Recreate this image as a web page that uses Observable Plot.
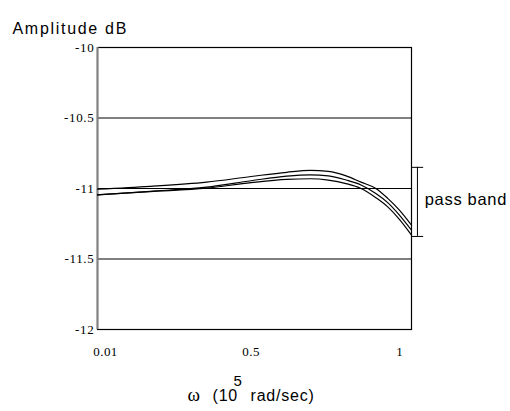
<!DOCTYPE html>
<html>
<head>
<meta charset="utf-8">
<script src="https://cdn.jsdelivr.net/npm/d3@7"></script>
<script src="https://cdn.jsdelivr.net/npm/@observablehq/plot@0.6"></script>
<style>
  body { margin: 0; background: white; }
</style>
</head>
<body>
<div id="chart"></div>
<script>
// ---- data ----
const xTicks = [0.01, 0.5, 1];
const xTickLabels = ["0.01", "0.5", "1"];
const yTicks = [-10, -10.5, -11, -11.5, -12];
const yTickLabels = ["-10", "-10.5", "-11", "-11.5", "-12"];
const gridY = [-10.5, -11, -11.5];
const xDomain = [-0.017, 1.04];
const yDomain = [-12, -10];

// frequency samples (10^5 rad/sec)
const omega = [-0.017, 0.16, 0.35, 0.5, 0.62, 0.7, 0.76, 0.82, 0.87, 0.92, 0.96, 1.0, 1.04];
// three amplitude responses (dB)
const ampUpper  = [-11.005, -10.985, -10.955, -10.915, -10.885, -10.872, -10.878, -10.91, -10.955, -11.0, -11.07, -11.155, -11.26];
const ampMiddle = [-11.045, -11.02, -10.99, -10.945, -10.912, -10.903, -10.91, -10.94, -10.975, -11.035, -11.1, -11.19, -11.295];
const ampLower  = [-11.045, -11.022, -10.998, -10.958, -10.935, -10.931, -10.94, -10.965, -11.0, -11.065, -11.13, -11.22, -11.33];

// pass band bracket
const passBand = [-10.85, -11.34];
const bracketX = 1.06;
const bracketCaps = [1.04, 1.081];

const titleText = "Amplitude dB";
const bandText = "pass band";
const xLabelParts = ["ω", "(10", "5", "rad/sec)"];

// ---- build ----
const series = [
  {name: "upper", values: ampUpper},
  {name: "middle", values: ampMiddle},
  {name: "lower", values: ampLower}
];
const rows = series.flatMap(s => omega.map((w, i) => ({series: s.name, w, a: s.values[i]})));

const SANS = "'Liberation Sans', Arial, sans-serif";
const SERIF = "'Liberation Serif', 'Times New Roman', serif";

const chart = Plot.plot({
  width: 510,
  height: 411,
  marginLeft: 97,
  marginRight: 99,
  marginTop: 47,
  marginBottom: 82,
  style: {fontFamily: SERIF, fontSize: "13px", color: "black", background: "white"},
  x: {domain: xDomain, axis: null},
  y: {domain: yDomain, axis: null},
  marks: [
    Plot.axisX(xTicks, {anchor: "bottom", tickSize: 0, tickPadding: 17, label: null,
      tickFormat: d => xTickLabels[xTicks.indexOf(d)], fontFamily: SERIF, fontSize: 13, fill: "black"}),
    Plot.axisY(yTicks, {anchor: "left", tickSize: 0, tickPadding: 3, label: null,
      tickFormat: d => yTickLabels[yTicks.indexOf(d)], fontFamily: SERIF, fontSize: 13, fill: "black"}),
    Plot.ruleY(gridY, {stroke: "black", strokeWidth: 1}),
    Plot.frame({stroke: "black", strokeWidth: 1.2}),
    Plot.ruleX([xDomain[0]], {stroke: "#808080", strokeWidth: 2}),
    Plot.line(rows, {x: "w", y: "a", z: "series", stroke: "black", strokeWidth: 1.2, curve: "monotone-x"}),
    // pass band bracket
    Plot.ruleX([bracketX], {y1: passBand[0], y2: passBand[1], stroke: "black", strokeWidth: 1}),
    Plot.ruleY(passBand, {x1: bracketCaps[0], x2: bracketCaps[1], stroke: "black", strokeWidth: 1}),
    Plot.text([bandText], {x: bracketCaps[1], y: (passBand[0] + passBand[1]) / 2, text: d => d, textAnchor: "start", dx: 1, dy: -2,
      fontFamily: SANS, fontSize: 16.5, fill: "black"}),
    // title
    Plot.text([titleText], {frameAnchor: "top-left", text: d => d, textAnchor: "start", dx: -85, dy: -25,
      fontFamily: SANS, fontSize: 16, fill: "black"}),
    // x axis label: ω (10^5 rad/sec)
    Plot.text([xLabelParts[0]], {frameAnchor: "bottom-left", text: d => d, textAnchor: "start", dx: 90, dy: 71,
      fontFamily: SERIF, fontSize: 19, fill: "black"}),
    Plot.text([xLabelParts[1]], {frameAnchor: "bottom-left", text: d => d, textAnchor: "start", dx: 115, dy: 71,
      fontFamily: SANS, fontSize: 16, fill: "black"}),
    Plot.text([xLabelParts[2]], {frameAnchor: "bottom-left", text: d => d, textAnchor: "start", dx: 136, dy: 56,
      fontFamily: SANS, fontSize: 15, fill: "black"}),
    Plot.text([xLabelParts[3]], {frameAnchor: "bottom-left", text: d => d, textAnchor: "start", dx: 153, dy: 71,
      fontFamily: SANS, fontSize: 16, fill: "black"})
  ]
});

const svg = d3.select(chart);
// letter spacing
const spacing = {[titleText]: "1.7px", [bandText]: "0.7px", "(10": "0.8px", "rad/sec)": "0.8px"};
xTickLabels.forEach(t => spacing[t] = "0.4px");
yTickLabels.forEach(t => spacing[t] = "0.7px");
svg.selectAll("text").each(function() {
  const t = this.textContent;
  if (spacing[t]) d3.select(this).attr("letter-spacing", spacing[t]);
});
document.getElementById("chart").appendChild(chart);
</script>
</body>
</html>
